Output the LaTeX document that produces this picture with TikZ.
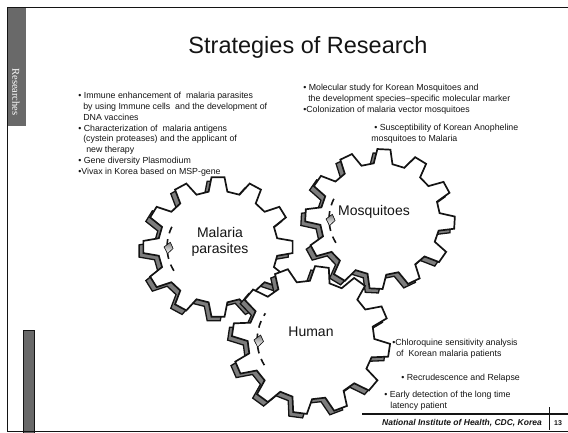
\documentclass[tikz,border=0pt]{standalone}
\usepackage{fontspec}
\setmainfont{Liberation Sans}
\newfontfamily\sidefont{Liberation Serif}
\usetikzlibrary{calc}
\definecolor{ink}{RGB}{20,20,20}
\definecolor{shade}{RGB}{125,125,125}
\definecolor{sidegray}{RGB}{105,105,105}
\tikzset{
  every picture/.style={color=ink, line width=0.6pt},
  gearbody/.style={fill=white, draw=ink, line width=1.7pt, line join=miter},
  gearshade/.style={fill=shade, draw=ink, line width=1.3pt, line join=miter},
  hubmark/.style={draw=ink, line width=1.6pt, dash pattern=on 7pt off 6pt},
  gearlabel/.style={font=\fontsize{14}{16.5}\selectfont, align=center},
  notes/.style={font=\fontsize{8.8}{10.8}\selectfont, align=left, anchor=north west, inner sep=0pt},
  rule/.style={draw=ink, line width=1.2pt},
}
% outline of a 12 tooth wheel around the origin: outer radius, turn
\newcommand{\gearoutline}[2]{({#2+9}:{0.8*#1})
  \foreach \k in {1,...,12} { -- ({#2+\k*30-9}:{0.8*#1}) -- ({#2+\k*30-5}:#1)
    -- ({#2+\k*30+5}:#1) -- ({#2+\k*30+9}:{0.8*#1}) } -- cycle}
% wheel with its shaded rim and the broken hub arc
\newcommand{\drawgear}[4]{%
  \begin{scope}[shift={(#1,#2)}, xscale=1.07]
    \path[gearshade, shift={(-4,4)}] \gearoutline{#3}{#4};
    \path[gearbody] \gearoutline{#3}{#4};
    \draw[hubmark] (150:{0.68*#3}) arc[start angle=150, end angle=212, radius={0.68*#3}];
    \fill[shade, draw=ink] (178:{0.6*#3}) -- (172:{0.68*#3}) -- (180:{0.72*#3}) -- (186:{0.64*#3}) -- cycle;
  \end{scope}}

\begin{document}
\begin{tikzpicture}[x=1pt, y=-1pt]
  \useasboundingbox (0,0) rectangle (568,433);
  % frame and side band
  \fill[sidegray] (7,8) rectangle (26,126);
  \node[rotate=-90, text=white, font=\sidefont\fontsize{10.5}{12}\selectfont] (side) at (16,92) {Researches};
  \filldraw[fill=sidegray, draw=ink] (23,330) rectangle (34,433);
  \draw[line width=1pt] (7,8) -- (7,431) -- (568,431);
  \draw[line width=1pt] (7,8) -- (568,8);

  \node[font=\fontsize{23.5}{27}\selectfont] (title) at (308,47) {Strategies of Research};

  % the three wheels
  \drawgear{380}{219}{70}{3}
  \drawgear{218}{247}{70}{0}
  \drawgear{311}{340}{74}{8}
  \node[gearlabel] (para) at (220,242) {Malaria\\parasites};
  \node[gearlabel] (mosq) at (374,212) {Mosquitoes};
  \node[gearlabel] (human) at (311,332) {Human};

  % research topics
  \node[notes] (paranotes) at (78,92) {• Immune enhancement of\ \ malaria parasites\\
    \hspace{5pt}by using Immune cells\ \ and the development of\\
    \hspace{5pt}DNA vaccines\\
    • Characterization of\ \ malaria antigens\\
    \hspace{5pt}(cystein proteases) and the applicant of\\
    \hspace{8pt}new therapy\\
    • Gene diversity Plasmodium\\
    •Vivax in Korea based on MSP-gene};
  \node[notes] (mosqnotes) at (303,84) {• Molecular study for Korean Mosquitoes and\\
    \hspace{5pt}the development\ species–specific\ molecular\ marker\\
    •Colonization of malaria vector mosquitoes};
  \node[notes] (suscept) at (371,124) {\hspace{3pt}• Susceptibility of Korean Anopheline\\
    mosquitoes to Malaria};
  \node[notes] (chloro) at (392,339) {•Chloroquine\ sensitivity\ analysis\\
    \hspace{4pt}of\ \ Korean malaria patients};
  \node[notes] (relapse) at (401,374) {• Recrudescence and Relapse};
  \node[notes] (early) at (384,391) {• Early detection of the long time\\
    \hspace{6pt}latency patient};

  % footer
  \coordinate (fl) at (362,414);
  \coordinate (fr) at (568,414);
  \draw[rule] (fl) -- (fr);
  \node[font=\bfseries\itshape\fontsize{8.5}{10}\selectfont] (inst) at (462,423) {National Institute of Health, CDC, Korea};
  \coordinate (tt) at (549,407);
  \coordinate (tb) at (549,430);
  \draw (tt) -- (tb);
  \node[font=\bfseries\fontsize{7}{8}\selectfont] (page) at (558,423) {13};
\end{tikzpicture}
\end{document}
